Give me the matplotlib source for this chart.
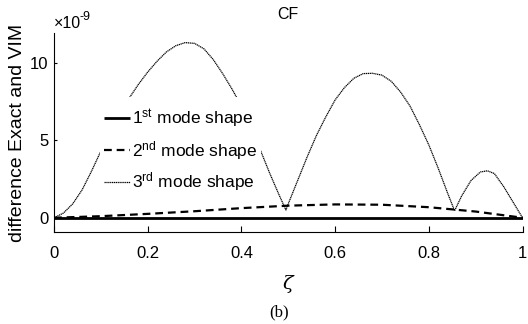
import matplotlib
matplotlib.use("Agg")
import matplotlib.pyplot as plt
from matplotlib.patches import Rectangle

plt.rcParams['font.family'] = ['Liberation Sans', 'DejaVu Sans']
plt.rcParams['mathtext.fontset'] = 'custom'
plt.rcParams['mathtext.rm'] = 'Liberation Sans'
plt.rcParams['mathtext.it'] = 'Liberation Sans:italic'

# data (values in units of 1e-9)
zeta = [0.00, 0.02, 0.04, 0.06, 0.08, 0.10, 0.12, 0.14, 0.16, 0.18, 0.20, 0.22, 0.24, 0.26,
        0.28, 0.30, 0.32, 0.34, 0.36, 0.38, 0.40, 0.42, 0.44, 0.46, 0.48, 0.495,
        0.50, 0.52, 0.54, 0.56, 0.58, 0.60, 0.62, 0.64, 0.66, 0.68, 0.70, 0.72, 0.74,
        0.76, 0.78, 0.80, 0.82, 0.84, 0.855, 0.87, 0.89, 0.91, 0.925, 0.94, 0.96, 0.98, 1.00]
mode3 = [0.0, 0.3, 0.9, 1.8, 3.0, 4.3, 5.5, 6.7, 7.7, 8.6, 9.4, 10.1, 10.7, 11.1,
         11.3, 11.25, 10.9, 10.2, 9.3, 8.3, 7.2, 5.8, 4.4, 2.9, 1.5, 0.5,
         0.9, 2.4, 3.9, 5.3, 6.5, 7.6, 8.4, 9.0, 9.3, 9.32, 9.2, 8.8, 8.1,
         7.2, 6.0, 4.7, 3.2, 1.6, 0.45, 1.4, 2.4, 2.95, 3.03, 2.85, 2.0, 1.0, 0.0]

zeta2 = [0.0, 0.1, 0.2, 0.3, 0.4, 0.5, 0.6, 0.7, 0.8, 0.9, 1.0]
mode2 = [0.0, 0.1, 0.25, 0.42, 0.62, 0.78, 0.86, 0.84, 0.68, 0.40, 0.0]
mode1 = [0.0, 0.0, 0.0, 0.0, 0.0, 0.0, 0.0, 0.0, 0.0, 0.0, 0.0]

labels = [r'1$^{\rm st}$ mode shape', r'2$^{\rm nd}$ mode shape', r'3$^{\rm rd}$ mode shape']
xticks = [0, 0.2, 0.4, 0.6, 0.8, 1]
yticks = [0, 5, 10]

fig = plt.figure(figsize=(5.28, 3.24), dpi=100)
ax = fig.add_axes([0.1023, 0.2849, 0.8873, 0.6123])

l1, = ax.plot(zeta2, mode1, color='black', lw=2.0, solid_capstyle='butt', zorder=3)
l2, = ax.plot(zeta2, mode2, color='black', lw=1.6, dashes=(3.5, 2.2), zorder=3)
l3, = ax.plot(zeta, mode3, color='black', lw=0.9, linestyle=(0, (1, 0.5)), zorder=2)

ax.set_xlim(0, 1)
ax.set_ylim(-0.9, 11.9)
ax.set_xticks(xticks)
ax.set_xticklabels(['0', '0.2', '0.4', '0.6', '0.8', '1'])
ax.set_yticks(yticks)
ax.tick_params(axis='x', direction='in', length=4, width=0.8, labelsize=12, pad=10)
ax.tick_params(axis='y', direction='in', length=2.5, width=0.8, labelsize=12, pad=4)
for s in ['top', 'right']:
    ax.spines[s].set_visible(False)
for s in ['left', 'bottom']:
    ax.spines[s].set_linewidth(0.8)

ax.add_patch(Rectangle((0.098, 0.185), 0.344, 0.494, transform=ax.transAxes,
                       facecolor='white', edgecolor='none', zorder=4))
leg = ax.legend([l1, l2, l3], labels, loc='upper left', bbox_to_anchor=(0.106, 0.625),
                frameon=False, fontsize=12.5, handlelength=1.5, handletextpad=0.15,
                labelspacing=0.5, borderpad=0, borderaxespad=0)
leg.set_zorder(5)

ax.set_ylabel('difference Exact and VIM', fontsize=14, labelpad=3)
ax.set_title('CF', fontsize=11.5, pad=10)
fig.text(54/528, 1 - 23/324, '×10', fontsize=11.5, ha='left', va='center')
fig.text(80/528, 1 - 17/324, '-9', fontsize=9, ha='left', va='center')
fig.text(288/528, 1 - 284/324, 'ζ', fontsize=14, fontstyle='italic', family='DejaVu Serif',
         ha='center', va='center')
fig.text(279/528, 1 - 312/324, '(b)', fontsize=12, family='Liberation Serif',
         ha='center', va='center')

fig.savefig('out.png', dpi=100)
